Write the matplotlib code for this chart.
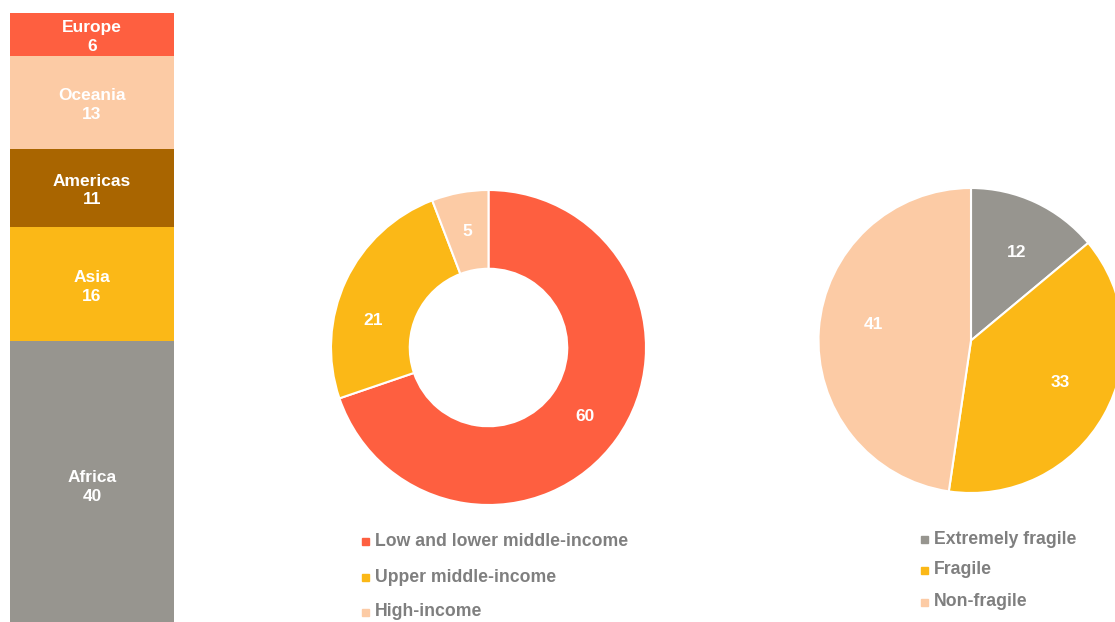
import numpy as np
import matplotlib.pyplot as plt
from matplotlib.patches import Rectangle

plt.rcParams['font.family'] = ['Liberation Sans', 'DejaVu Sans']

# Data
REGIONS = ['Africa', 'Asia', 'Americas', 'Oceania', 'Europe']
REGION_VALUES = [40, 16, 11, 13, 6]
REGION_COLORS = ['#97958F', '#FBB817', '#A96500', '#FCCBA5', '#FE5F40']

INCOME_LABELS = ['Low and lower middle-income', 'Upper middle-income', 'High-income']
INCOME_VALUES = [60, 21, 5]
INCOME_COLORS = ['#FE5F40', '#FBB817', '#FCCBA5']

FRAGILITY_LABELS = ['Extremely fragile', 'Fragile', 'Non-fragile']
FRAGILITY_VALUES = [12, 33, 41]
FRAGILITY_COLORS = ['#97958F', '#FBB817', '#FCCBA5']

W, H = 1115, 622
LEGEND_GRAY = '#7F7F7F'
FONT_SIZE = 12.5
LEGEND_SIZE = 12.7


def px_axes(fig, cx, cy, r):
    """Square axes centred on pixel (cx, cy) with half-size r (pixels from top-left)."""
    return fig.add_axes([(cx - r) / W, (H - cy - r) / H, 2 * r / W, 2 * r / H])


def label_wedges(ax, values, dist, offsets=None):
    total = sum(values)
    start = 90.0
    for i, v in enumerate(values):
        sweep = v / total * 360
        mid = start - sweep / 2
        if offsets:
            mid += offsets[i]
        ang = np.deg2rad(mid)
        ax.text(dist * np.cos(ang), dist * np.sin(ang), str(v), color='white',
                fontsize=FONT_SIZE, fontweight='bold', ha='center', va='center')
        start -= sweep


def draw_legend(fig, labels, colors, x, ys):
    for label, color, y in zip(labels, colors, ys):
        fig.add_artist(Rectangle(((x - 13) / W, (H - y - 3.5) / H), 7 / W, 7 / H,
                                 color=color, transform=fig.transFigure))
        fig.text(x / W, (H - y) / H, label, color=LEGEND_GRAY, fontsize=LEGEND_SIZE,
                 fontweight='bold', ha='left', va='center')


fig = plt.figure(figsize=(W / 100, H / 100), dpi=100)

# Stacked bar by region (runs a little past the bottom edge)
ax_bar = fig.add_axes([10 / W, -5 / H, 164 / W, 614 / H])
bottom = 0
for name, val, col in zip(REGIONS, REGION_VALUES, REGION_COLORS):
    ax_bar.bar(0, val, width=1, bottom=bottom, color=col, align='edge')
    ax_bar.annotate(f'{name}\n{val}', (0.5, bottom + val / 2), xytext=(0, -2),
                    textcoords='offset points', color='white',
                    fontsize=FONT_SIZE, fontweight='bold', ha='center', va='center',
                    linespacing=1.3)
    bottom += val
ax_bar.set_xlim(0, 1)
ax_bar.set_ylim(0, sum(REGION_VALUES))
ax_bar.axis('off')

# Donut by income group
ax_donut = px_axes(fig, 488.5, 347.5, 157.5)
ax_donut.pie(INCOME_VALUES, colors=INCOME_COLORS, startangle=90, counterclock=False,
             radius=1, wedgeprops=dict(width=0.5, edgecolor='white', linewidth=1.5))
label_wedges(ax_donut, INCOME_VALUES, 0.75, offsets=[0, 12, 0])
ax_donut.set_xlim(-1, 1)
ax_donut.set_ylim(-1, 1)
draw_legend(fig, INCOME_LABELS, INCOME_COLORS, 375, [541, 577, 612])

# Pie by fragility
ax_pie = px_axes(fig, 971, 340.5, 152.5)
ax_pie.pie(FRAGILITY_VALUES, colors=FRAGILITY_COLORS, startangle=90, counterclock=False,
           radius=1, wedgeprops=dict(edgecolor='white', linewidth=1.5))
label_wedges(ax_pie, FRAGILITY_VALUES, 0.65, offsets=[-2, 4, -5])
ax_pie.set_xlim(-1, 1)
ax_pie.set_ylim(-1, 1)
draw_legend(fig, FRAGILITY_LABELS, FRAGILITY_COLORS, 934, [539, 570, 602])

fig.savefig('out.png', dpi=100)
